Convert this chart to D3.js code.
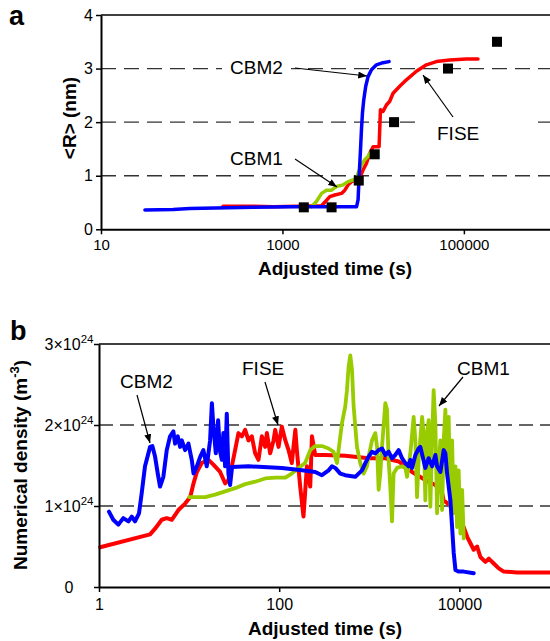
<!DOCTYPE html>
<html>
<head>
<meta charset="utf-8">
<script src="https://cdn.jsdelivr.net/npm/d3@7/dist/d3.min.js"></script>
<style>
  body { margin: 0; background: #fff; }
  svg text { font-family: "Liberation Sans", Arial, Helvetica, sans-serif; }
</style>
</head>
<body>
<svg id="chart" width="550" height="641"></svg>
<script>
// ---- panel a : mean radius <R> (nm) vs adjusted time (s) ----
const radiusXTicks = [10, 1000, 100000];
const radiusYTicks = [0, 1, 2, 3, 4];
const radiusGrid = [1, 2, 3];

const radiusCBM2 = [[30.5,0.36],[62.5,0.37],[95,0.39],[476,0.41],[1200,0.42],[6550,0.42],[6820,0.55],[7000,0.98],
  [7250,1.48],[7430,1.86],[7620,2.17],[7880,2.42],[8280,2.67],[8790,2.85],[9580,2.98],[10870,3.07],[12850,3.11],[14960,3.13]];
const radiusFISE = [[221,0.43],[480,0.43],[800,0.42],[2700,0.44],[3330,0.61],[3780,0.64],[4480,0.67],[4870,0.73],[5300,0.83],[5770,0.89],
  [6550,0.92],[7120,0.95],[7740,1.11],[8430,1.23],[9180,1.42],[9980,1.54],[11620,1.54],[12030,2.23],[12850,2.20],
  [14000,2.32],[15230,2.39],[16570,2.54],[19630,2.67],[23270,2.79],[29990,2.95],[38630,3.07],[49770,3.13],
  [69800,3.16],[106600,3.18],[143000,3.18]];
const radiusCBM1 = [[2090,0.42],[2370,0.52],[2700,0.67],[3060,0.73],[3480,0.73],[3950,0.80],[4670,0.83],[5300,0.89],
  [6010,0.92],[6550,0.95],[6820,1.05],[7430,1.20],[8070,1.30],[8790,1.36],[9180,1.42]];
const radiusExp = [[1720,0.41],[3480,0.41],[6940,0.91],[10400,1.40],[17000,2.0],[66800,3.0],[231700,3.5]];

// ---- panel b : numerical density (x10^24 m^-3) vs adjusted time (s) ----
const densityXTicks = [1, 100, 10000];
const densityYTicks = [0, 1, 2, 3];
const densityGrid = [1, 2];

const densityCBM2 = [[1.29,0.93],[1.44,0.83],[1.64,0.77],[1.86,0.85],[2.12,0.81],[2.31,0.87],[2.51,0.81],[2.78,0.91],
  [2.98,1.16],[3.24,1.49],[3.69,1.73],[3.91,1.74],[4.19,1.61],[4.49,1.40],[4.76,1.24],[5.18,1.36],[5.65,1.69],
  [6.15,1.86],[6.69,1.92],[6.99,1.77],[7.49,1.86],[7.94,1.73],[8.30,1.81],[9.03,1.69],[9.83,1.77],[10.7,1.57],
  [11.2,1.40],[12.2,1.49],[13.3,1.61],[14.4,1.69],[15.7,1.49],[17.1,1.81],[17.9,2.27],[18.6,1.98],[19.8,1.65],
  [21.0,2.06],[21.9,1.69],[23.1,1.57],[24.0,1.90],[25.1,1.49],[26.2,2.14],[27.3,1.40],[28.5,1.26],[30.0,1.48],
  [45.6,1.49],[107,1.47],[179,1.44],[251,1.42],[298,1.38],[353,1.44],[385,1.49],[419,1.47],[476,1.40],[541,1.38],
  [615,1.37],[699,1.36],[761,1.40],[830,1.44],[903,1.53],[983,1.61],[1072,1.67],[1166,1.65],[1269,1.69],[1384,1.71],
  [1506,1.63],[1638,1.67],[1786,1.59],[1944,1.63],[2117,1.69],[2307,1.59],[2512,1.53],[2734,1.49],[2855,1.57],
  [2981,1.47],[3246,1.63],[3532,1.71],[3687,1.73],[3911,1.61],[4190,1.47],[4560,1.59],[4977,1.49],[5412,1.63],
  [5651,1.49],[6151,1.42],[6696,1.69],[6989,1.65],[7300,1.40],[7943,1.07],[8299,0.74],[8650,0.42],[9036,0.21],
  [9750,0.19],[11170,0.19],[14420,0.17]];
const densityFISE = [[1.03,0.49],[3.69,0.65],[4.19,0.72],[4.97,0.83],[5.65,0.85],[6.42,0.83],[7.61,0.95],[9.03,1.03],
  [10.3,1.11],[11.2,1.28],[12.2,1.42],[13.8,1.53],[16.4,1.57],[18.6,1.51],[22.1,1.42],[25.1,1.28],[27.3,1.32],
  [29.8,1.49],[32.4,1.69],[35.3,1.90],[38.5,1.86],[41.9,1.94],[45.6,1.81],[49.7,1.86],[54.1,1.65],[58.9,1.57],
  [64.2,1.86],[69.9,1.73],[73.0,1.90],[79.4,1.65],[86.5,1.81],[90.3,1.94],[98.3,1.73],[107,1.98],[117,1.81],
  [127,1.69],[138,1.53],[151,1.94],[157,1.69],[171,1.24],[186,0.87],[203,1.49],[221,1.24],[231,1.86],[251,1.63],
  [324,1.63],[541,1.62],[983,1.59],[1506,1.59],[2117,1.55],[2512,1.49],[2981,1.42],[4190,1.32],[5412,1.26],
  [6427,1.16],[6696,1.07],[9036,0.95],[11170,0.74],[12190,0.62],[13250,0.54],[14420,0.46],[15730,0.50],
  [17100,0.37],[19450,0.31],[21180,0.35],[24050,0.29],[27340,0.23],[31070,0.19],[43750,0.18],[100000,0.18]];
const densityCBM1 = [[10.0,1.11],[15.1,1.11],[19.4,1.14],[25.1,1.18],[32.4,1.22],[41.9,1.27],[54.1,1.30],[69.9,1.34],
  [90.3,1.35],[117,1.35],[138,1.40],[164,1.47],[194,1.53],[221,1.69],[251,1.74],[298,1.74],[353,1.71],[401,1.67],
  [438,1.53],[456,1.69],[497,2.02],[541,2.23],[565,2.43],[589,2.72],[615,2.86],[643,2.68],[670,2.23],[699,1.98],
  [730,1.73],[794,1.53],[865,1.40],[943,1.49],[983,1.61],[1072,1.81],[1166,1.90],[1219,1.73],[1269,1.20],[1324,1.40],
  [1384,1.73],[1506,2.27],[1573,2.19],[1638,1.57],[1710,1.24],[1786,0.81],[1862,1.40],[2031,1.47],[2307,1.49],
  [2512,1.47],[2624,1.36],[2855,1.65],[3106,2.10],[3246,1.81],[3388,1.11],[3532,1.57],[3855,2.10],[4011,1.90],
  [4190,1.07],[4375,1.90],[4560,2.06],[4764,0.99],[4977,1.81],[5176,2.43],[5412,2.02],[5651,0.91],[5888,1.49],
  [6151,1.81],[6427,0.95],[6696,1.81],[6989,2.19],[7300,1.49],[7603,2.10],[7943,0.99],[8299,1.81],[8650,0.91],
  [9036,1.49],[9419,0.74],[9817,1.44],[10260,0.66],[10720,1.20],[11170,0.60]];

const BLUE = '#0000ff', RED = '#ff0000', GREEN = '#99cc00';
const W = 550;

const svg = d3.select('#chart');

svg.append('defs').append('marker')
  .attr('id', 'arrowhead')
  .attr('viewBox', '0 -4 10 8')
  .attr('refX', 10)
  .attr('refY', 0)
  .attr('markerUnits', 'userSpaceOnUse')
  .attr('markerWidth', 9)
  .attr('markerHeight', 7)
  .attr('orient', 'auto')
  .append('path')
  .attr('d', 'M0,-4L10,0L0,4Z')
  .attr('fill', '#000');

function drawArrow(x1, y1, x2, y2) {
  svg.append('line')
    .attr('x1', x1).attr('y1', y1).attr('x2', x2).attr('y2', y2)
    .attr('stroke', '#000').attr('stroke-width', 1.2)
    .attr('marker-end', 'url(#arrowhead)');
}

function label(x, y, txt) {
  svg.append('text').attr('x', x).attr('y', y)
    .attr('font-size', 19).attr('fill', '#000').text(txt);
}

function drawSeries(g, data, x, y, color, width) {
  const line = d3.line().x(d => x(d[0])).y(d => y(d[1]));
  g.append('path')
    .datum(data)
    .attr('d', line)
    .attr('fill', 'none')
    .attr('stroke', color)
    .attr('stroke-width', width)
    .attr('stroke-linejoin', 'round')
    .attr('stroke-linecap', 'round');
}

function styleAxis(g, fontSize) {
  g.select('.domain').attr('stroke-width', 2);
  g.selectAll('.tick line').attr('stroke-width', 1.5);
  g.selectAll('.tick text').attr('font-size', fontSize).attr('fill', '#000')
    .attr('font-family', '"Liberation Sans", Arial, sans-serif');
}

// ================= panel a =================
const xA = d3.scaleLog().domain([10, 1e6]).range([101, 554.6]);
const yA = d3.scaleLinear().domain([0, 4]).range([229.3, 15]);

const gA = svg.append('g');

gA.selectAll('.grid')
  .data(radiusGrid)
  .enter().append('line')
  .attr('x1', xA.range()[0]).attr('x2', W)
  .attr('y1', d => yA(d)).attr('y2', d => yA(d))
  .attr('stroke', '#333').attr('stroke-width', 1.3)
  .attr('stroke-dasharray', '15,8');

// top frame line
gA.append('line')
  .attr('x1', xA.range()[0]).attr('x2', W)
  .attr('y1', yA(4)).attr('y2', yA(4))
  .attr('stroke', '#000').attr('stroke-width', 1.5);

// label backgrounds that cut the dashed lines
gA.append('rect').attr('x', 222).attr('y', 57).attr('width', 69).attr('height', 22).attr('fill', '#fff');
gA.append('rect').attr('x', 422).attr('y', 117).attr('width', 111).attr('height', 28).attr('fill', '#fff');

drawSeries(gA, radiusFISE, xA, yA, RED, 3.5);
drawSeries(gA, radiusCBM1, xA, yA, GREEN, 3.5);
drawSeries(gA, radiusCBM2, xA, yA, BLUE, 3.5);

gA.selectAll('.exp')
  .data(radiusExp)
  .enter().append('rect')
  .attr('x', d => xA(d[0]) - 5)
  .attr('y', d => yA(d[1]) - 5)
  .attr('width', 10).attr('height', 10)
  .attr('fill', '#000');

const axA = gA.append('g')
  .attr('transform', `translate(0,${yA(0)})`)
  .call(d3.axisBottom(xA).tickValues(radiusXTicks).tickFormat(d3.format('d')).tickSize(5).tickSizeOuter(0).tickPadding(5));
styleAxis(axA, 15);

const ayA = gA.append('g')
  .attr('transform', `translate(${xA.range()[0]},0)`)
  .call(d3.axisLeft(yA).tickValues(radiusYTicks).tickFormat(d3.format('d')).tickSize(5).tickSizeOuter(0).tickPadding(3));
styleAxis(ayA, 16);

svg.append('text').attr('x', 335).attr('y', 275)
  .attr('text-anchor', 'middle').attr('font-size', 19).attr('font-weight', 'bold')
  .text('Adjusted time (s)');
svg.append('text')
  .attr('transform', 'translate(76,118) rotate(-90)')
  .attr('text-anchor', 'middle').attr('font-size', 19).attr('font-weight', 'bold')
  .text('<R> (nm)');
svg.append('text').attr('x', 9).attr('y', 25)
  .attr('font-size', 27).attr('font-weight', 'bold').text('a');

label(230, 74, 'CBM2');
drawArrow(295, 68, 367, 76);
label(230, 165, 'CBM1');
drawArrow(295, 159, 337, 187);
label(437, 140, 'FISE');
drawArrow(453, 117, 423, 75);

// ================= panel b =================
const xB = d3.scaleLog().domain([1, 1e5]).range([99, 549.5]);
const yB = d3.scaleLinear().domain([0, 3]).range([587, 344]);

const gB = svg.append('g');

gB.selectAll('.grid')
  .data(densityGrid)
  .enter().append('line')
  .attr('x1', xB.range()[0]).attr('x2', W)
  .attr('y1', d => yB(d)).attr('y2', d => yB(d))
  .attr('stroke', '#333').attr('stroke-width', 1.3)
  .attr('stroke-dasharray', '14,7');

gB.append('line')
  .attr('x1', xB.range()[0]).attr('x2', W)
  .attr('y1', yB(3)).attr('y2', yB(3))
  .attr('stroke', '#000').attr('stroke-width', 1.5);

drawSeries(gB, densityFISE, xB, yB, RED, 4);
drawSeries(gB, densityCBM1, xB, yB, GREEN, 3.8);
drawSeries(gB, densityCBM2, xB, yB, BLUE, 4);

const axB = gB.append('g')
  .attr('transform', `translate(0,${yB(0)})`)
  .call(d3.axisBottom(xB).tickValues(densityXTicks).tickFormat(d3.format('d')).tickSize(5).tickSizeOuter(0).tickPadding(7));
styleAxis(axB, 16);

const ayB = gB.append('g')
  .attr('transform', `translate(${xB.range()[0]},0)`)
  .call(d3.axisLeft(yB).tickValues(densityYTicks).tickFormat('').tickSize(5).tickSizeOuter(0));
styleAxis(ayB, 16);

// y tick labels with power of ten
densityYTicks.forEach(v => {
  const t = svg.append('text')
    .attr('x', 69).attr('y', yB(v) + 6)
    .attr('text-anchor', 'middle').attr('font-size', 16).attr('fill', '#000');
  if (v === 0) {
    t.text('0');
  } else {
    t.append('tspan').text(v + '\u00d710');
    t.append('tspan').attr('dy', -7).attr('font-size', 11.5).text('24');
  }
});

svg.append('text').attr('x', 325).attr('y', 635)
  .attr('text-anchor', 'middle').attr('font-size', 19).attr('font-weight', 'bold')
  .text('Adjusted time (s)');
const yTitle = svg.append('text')
  .attr('transform', 'translate(27,465) rotate(-90)')
  .attr('text-anchor', 'middle').attr('font-size', 19).attr('font-weight', 'bold');
yTitle.append('tspan').text('Numerical density (m');
yTitle.append('tspan').attr('dy', -8).attr('font-size', 13).text('-3');
yTitle.append('tspan').attr('dy', 8).text(')');
svg.append('text').attr('x', 10).attr('y', 340)
  .attr('font-size', 27).attr('font-weight', 'bold').text('b');

label(120, 388, 'CBM2');
drawArrow(137, 395, 150, 443);
label(242, 375, 'FISE');
drawArrow(265, 382, 278, 425);
label(457, 375, 'CBM1');
drawArrow(463, 377, 439, 406);
</script>
</body>
</html>
